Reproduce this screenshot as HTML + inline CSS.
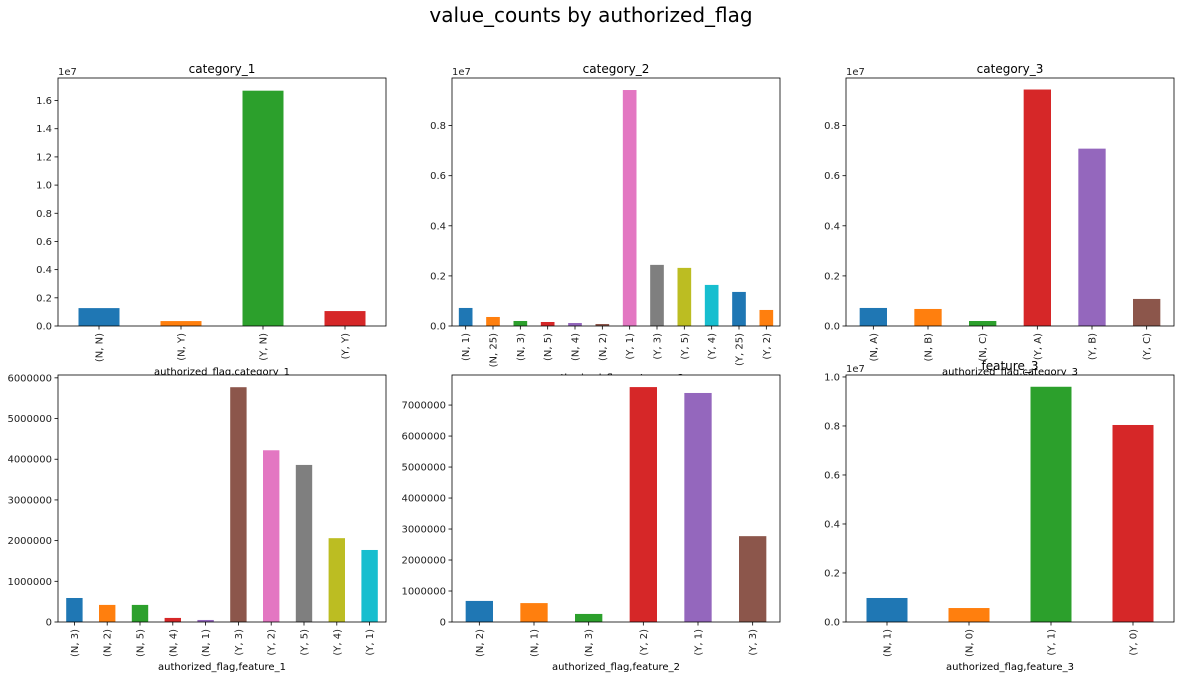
<!DOCTYPE html>
<html><head><meta charset="utf-8"><style>
body{margin:0;background:#fff}
svg{display:block;font-family:"DejaVu Sans","Liberation Sans",sans-serif}
</style></head><body>
<svg id="fig" width="1184" height="679" xmlns="http://www.w3.org/2000/svg">
<text x="591" y="22" text-anchor="middle" font-size="20" fill="#000">value_counts by authorized_flag</text>
</svg>
<script>
const cat1Labels = ["(N, N)","(N, Y)","(Y, N)","(Y, Y)"];
const cat1Values = [1.27e6,0.35e6,16.7e6,1.06e6];
const cat2Labels = ["(N, 1)","(N, 25)","(N, 3)","(N, 5)","(N, 4)","(N, 2)","(Y, 1)","(Y, 3)","(Y, 5)","(Y, 4)","(Y, 25)","(Y, 2)"];
const cat2Values = [0.72e6,0.36e6,0.2e6,0.16e6,0.12e6,0.08e6,9.42e6,2.44e6,2.32e6,1.64e6,1.36e6,0.64e6];
const cat3Labels = ["(N, A)","(N, B)","(N, C)","(Y, A)","(Y, B)","(Y, C)"];
const cat3Values = [0.72e6,0.68e6,0.2e6,9.44e6,7.08e6,1.08e6];
const f1Labels = ["(N, 3)","(N, 2)","(N, 5)","(N, 4)","(N, 1)","(Y, 3)","(Y, 2)","(Y, 5)","(Y, 4)","(Y, 1)"];
const f1Values = [0.59e6,0.42e6,0.42e6,0.1e6,0.05e6,5.77e6,4.22e6,3.86e6,2.06e6,1.77e6];
const f2Labels = ["(N, 2)","(N, 1)","(N, 3)","(Y, 2)","(Y, 1)","(Y, 3)"];
const f2Values = [0.68e6,0.61e6,0.26e6,7.58e6,7.39e6,2.77e6];
const f3Labels = ["(N, 1)","(N, 0)","(Y, 1)","(Y, 0)"];
const f3Values = [0.98e6,0.57e6,9.6e6,8.04e6];
const tab10 = ["#1f77b4","#ff7f0e","#2ca02c","#d62728","#9467bd","#8c564b","#e377c2","#7f7f7f","#bcbd22","#17becf"];
const NS="http://www.w3.org/2000/svg";
const fig=document.getElementById('fig');
function mk(tag,attrs,parent,text){const e=document.createElementNS(NS,tag);for(const k in attrs)e.setAttribute(k,attrs[k]);if(text!==undefined)e.textContent=text;(parent||fig).appendChild(e);return e;}

function plot(o){
  const g=mk('g',{});
  
  
  const L=o.x,T=o.y,W=328,H=o.h,B=T+H;
  mk('rect',{x:L,y:T,width:W,height:H,fill:'#fff'},g);
  const ymax=o.ymax;
  const yS=v=>B-v/ymax*H;
  const n=o.labels.length, step=W/n;
  const xS=i=>L+step*(i+0.5);
  o.values.forEach((v,i)=>{
    const r=mk('rect',{x:xS(i)-step/4,y:yS(v),width:step/2,height:B-yS(v),fill:tab10[i%10]},g);
    
    
  });
  o.ticks.forEach((t,i)=>{
    const y=yS(t);
    mk('line',{x1:L-3.5,x2:L,y1:y,y2:y,stroke:'#000','stroke-width':0.8},g);
    const tx=mk('text',{x:L-6,y:y+3.5,'text-anchor':'end','font-size':10,fill:'#222'},g,o.tickLabels[i]);
    
    
  });
  o.labels.forEach((lb,i)=>{
    const x=xS(i);
    mk('line',{x1:x,x2:x,y1:B,y2:B+3.5,stroke:'#000','stroke-width':0.8},g);
    const tx=mk('text',{x:0,y:0,'text-anchor':'end','font-size':10,fill:'#222',transform:`translate(${x+3.5},${B+7}) rotate(-90)`},g,lb);
    
    
  });
  mk('rect',{x:L,y:T,width:W,height:H,fill:'none',stroke:'#000','stroke-width':0.8},g);
  if(o.offset){const t=mk('text',{x:L,y:T-3,'font-size':10,fill:'#222'},g,o.offset);}
  if(o.title){const t=mk('text',{x:L+W/2,y:T-5,'text-anchor':'middle','font-size':12,fill:'#000'},g,o.title);}
  const xl=mk('text',{x:L+W/2,y:o.xlabelY,'text-anchor':'middle','font-size':10,fill:'#000'},g,o.xlabel);
  
  
}
const e7ticks=[0,0.2e7,0.4e7,0.6e7,0.8e7];
const e7lab=["0.0","0.2","0.4","0.6","0.8"];
plot({name:'chart-category-1',x:58,y:78,h:248,labels:cat1Labels,values:cat1Values,ymax:17.6e6,
  ticks:[0,2e6,4e6,6e6,8e6,10e6,12e6,14e6,16e6],tickLabels:["0.0","0.2","0.4","0.6","0.8","1.0","1.2","1.4","1.6"],
  offset:'1e7',title:'category_1',xlabel:'authorized_flag,category_1',xlabelY:375});
plot({name:'chart-category-2',x:452,y:78,h:248,labels:cat2Labels,values:cat2Values,ymax:9.9e6,
  ticks:e7ticks,tickLabels:e7lab,offset:'1e7',title:'category_2',xlabel:'authorized_flag,category_2',xlabelY:381});
plot({name:'chart-category-3',x:846,y:78,h:248,labels:cat3Labels,values:cat3Values,ymax:9.9e6,
  ticks:e7ticks,tickLabels:e7lab,offset:'1e7',title:'category_3',xlabel:'authorized_flag,category_3',xlabelY:375});
plot({name:'chart-feature-1',x:58,y:375,h:247,labels:f1Labels,values:f1Values,ymax:6.07e6,
  ticks:[0,1e6,2e6,3e6,4e6,5e6,6e6],tickLabels:["0","1000000","2000000","3000000","4000000","5000000","6000000"],
  xlabel:'authorized_flag,feature_1',xlabelY:670});
plot({name:'chart-feature-2',x:452,y:375,h:247,labels:f2Labels,values:f2Values,ymax:7.97e6,
  ticks:[0,1e6,2e6,3e6,4e6,5e6,6e6,7e6],tickLabels:["0","1000000","2000000","3000000","4000000","5000000","6000000","7000000"],
  xlabel:'authorized_flag,feature_2',xlabelY:670});
plot({name:'chart-feature-3',x:846,y:375,h:247,labels:f3Labels,values:f3Values,ymax:10.08e6,
  ticks:[0,0.2e7,0.4e7,0.6e7,0.8e7,1e7],tickLabels:["0.0","0.2","0.4","0.6","0.8","1.0"],
  offset:'1e7',title:'feature_3',xlabel:'authorized_flag,feature_3',xlabelY:670});
</script>
</body></html>
